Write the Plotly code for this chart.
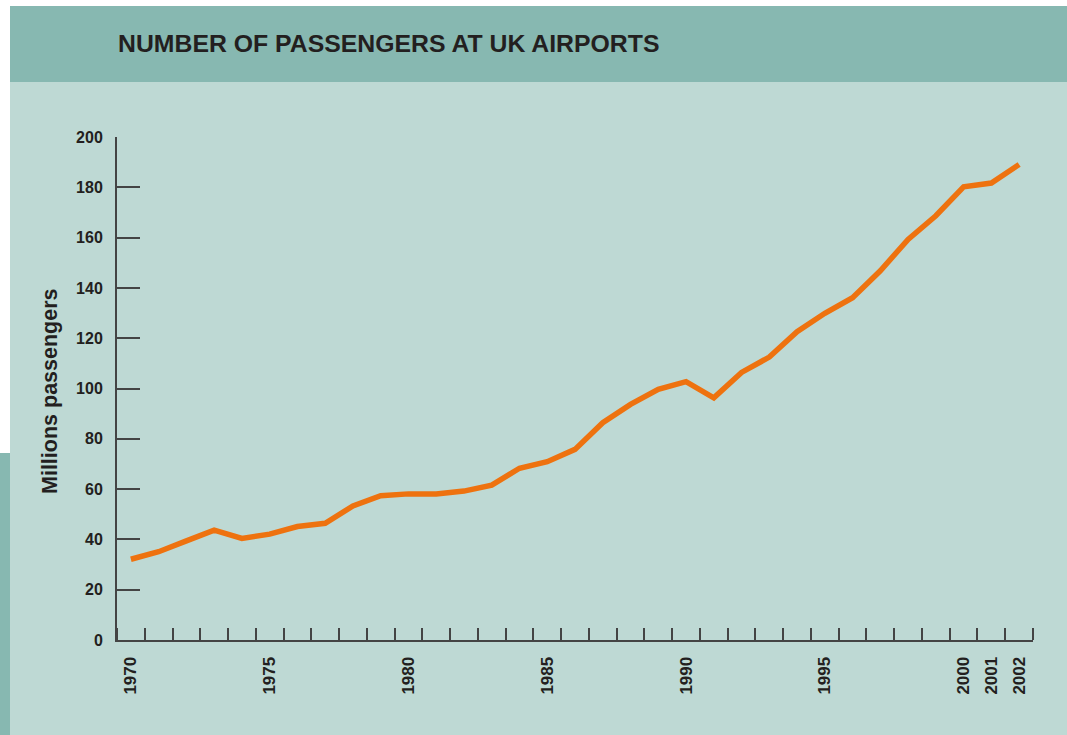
import plotly.graph_objects as go

years = list(range(1970, 2003))
passengers = [32.1, 35.1, 39.4, 43.7, 40.4, 42.1, 45.1, 46.4, 53.3, 57.4,
              58.1, 58.1, 59.2, 61.6, 68.3, 70.9, 75.8, 86.4, 93.7, 99.7,
              102.7, 96.3, 106.4, 112.5, 122.6, 129.9, 136.1, 146.8, 159.3, 168.7,
              180.2, 181.7, 189.1]
x_label_years = [1970, 1975, 1980, 1985, 1990, 1995, 2000, 2001, 2002]
y_ticks = [0, 20, 40, 60, 80, 100, 120, 140, 160, 180, 200]

W, H = 1067, 735
L, R, T, B = 117, 1033, 137, 640

def px(x):
    return (x - L) / (R - L)

def py(y):
    return (B - y) / (B - T)

HEADER = "#87b8b1"
BODY = "#bed9d4"
LINE = "#ee720f"
AX = "#444444"
TXT = "#231f20"
FONT = "Liberation Sans, Arial, sans-serif"

fig = go.Figure()
fig.add_trace(go.Scatter(x=years, y=passengers, mode="lines",
                         line=dict(color=LINE, width=5.5), hoverinfo="skip",
                         showlegend=False))

shapes = [
    dict(type="rect", xref="paper", yref="paper", layer="below",
         x0=px(10), x1=px(1067), y0=py(82), y1=py(6),
         fillcolor=HEADER, line=dict(width=0)),
    dict(type="rect", xref="paper", yref="paper", layer="below",
         x0=px(10), x1=px(1067), y0=py(735), y1=py(82),
         fillcolor=BODY, line=dict(width=0)),
    dict(type="rect", xref="paper", yref="paper", layer="below",
         x0=px(0), x1=px(10), y0=py(735), y1=py(453),
         fillcolor=HEADER, line=dict(width=0)),
]

annotations = [
    dict(text="<b>NUMBER OF PASSENGERS AT UK AIRPORTS</b>", xref="paper", yref="paper",
         x=px(116), y=py(44), xanchor="left", yanchor="middle", showarrow=False,
         font=dict(family=FONT, size=24.8, color=TXT)),
    dict(text="<b>Millions passengers</b>", xref="paper", yref="paper",
         x=px(50), y=py(391), xanchor="center", yanchor="middle", showarrow=False,
         textangle=-90, font=dict(family=FONT, size=21.5, color=TXT)),
]

fig.update_layout(
    width=W, height=H,
    margin=dict(l=L, r=W - R, t=T, b=H - B, pad=0),
    paper_bgcolor="white", plot_bgcolor="rgba(0,0,0,0)",
    shapes=shapes, annotations=annotations,
    xaxis=dict(range=[1969.5, 2002.5], showgrid=False, zeroline=False,
               showline=True, linecolor=AX, linewidth=2,
               tickmode="array", tickvals=x_label_years,
               ticktext=["<b>%d</b>" % v for v in x_label_years],
               ticks="", tickangle=-90, ticklabelstandoff=8,
               tickfont=dict(family=FONT, size=17, color=TXT),
               minor=dict(tick0=1969.5, dtick=1, ticks="inside", ticklen=12,
                          tickcolor=AX, tickwidth=1.5, showgrid=False)),
    yaxis=dict(range=[0, 200], showgrid=False, zeroline=False,
               showline=True, linecolor=AX, linewidth=2,
               tickmode="array", tickvals=y_ticks,
               ticktext=["<b>%d</b>" % v for v in y_ticks],
               ticks="inside", ticklen=23, tickcolor=AX, tickwidth=1.5,
               ticklabelstandoff=9,
               tickfont=dict(family=FONT, size=16, color=TXT)),
)

fig.write_html("out.html", config={"displayModeBar": False},
               post_script="document.body.style.margin='0';document.body.style.overflow='hidden';")
